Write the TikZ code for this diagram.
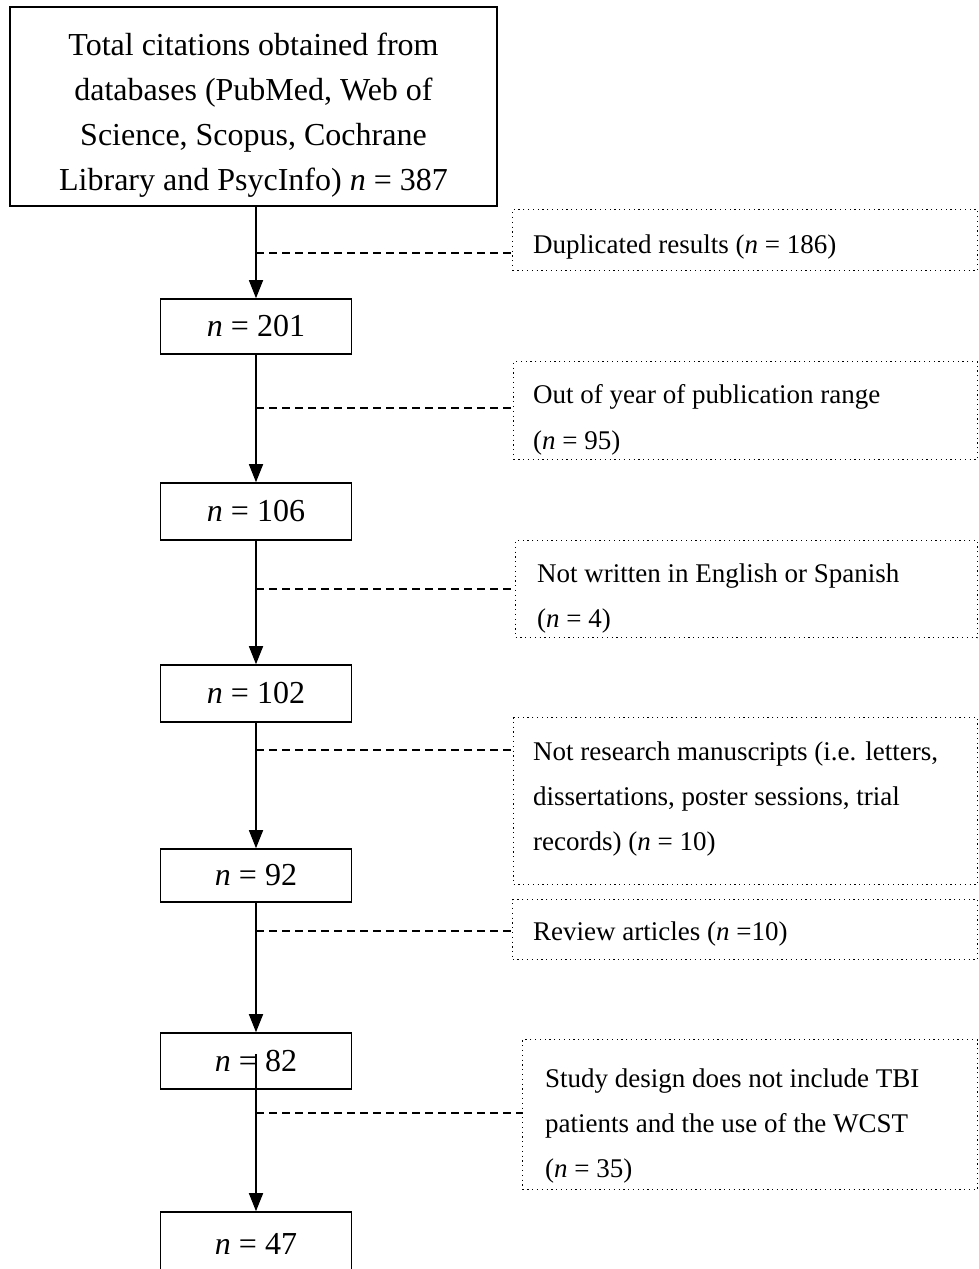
\documentclass[tikz,border=0pt]{standalone}
\usepackage{fontspec}
\setmainfont{Liberation Serif}
\usetikzlibrary{arrows.meta}
\begin{document}
\begin{tikzpicture}[x=1pt,y=-1pt,
 mainbox/.style={draw, line width=1.6pt, minimum width=191pt, minimum height=56pt, inner sep=0pt, font=\fontsize{32}{45}\selectfont},
 sidebox/.style={draw, line width=1.1pt, dash pattern=on 1.2pt off 3.6pt, anchor=north west, inner sep=0pt},
 sidetext/.style={anchor=base west, inner sep=0pt, font=\fontsize{27}{46}\selectfont},
 flow/.style={line width=1.6pt, -{Triangle[length=18pt,width=14pt]}},
 exclude/.style={line width=1.6pt, dash pattern=on 8pt off 5pt}]
\useasboundingbox (0,0) rectangle (979,1269);

% main column
\node[mainbox, minimum width=487pt, minimum height=199pt] (top) at (253.5,106.5) {};
\node[inner sep=0pt, align=center, font=\fontsize{32}{45}\selectfont] (toptext) at (253.5,115)
  {Total citations obtained from\\ databases (PubMed, Web of\\ Science, Scopus, Cochrane\\ Library and PsycInfo) \textit{n} = 387};
\node[mainbox, minimum height=55pt] (b201) at (256,326.5) {\textit{n} = 201};
\node[mainbox, minimum height=57pt] (b106) at (256,511.5) {\textit{n} = 106};
\node[mainbox, minimum height=57pt] (b102) at (256,693.5) {\textit{n} = 102};
\node[mainbox, minimum height=53pt] (b92) at (256,875.5) {\textit{n} = 92};
\node[mainbox, minimum height=56pt] (b82) at (256,1061) {\textit{n} = 82};
\node[mainbox, minimum height=64pt] (b47) at (256,1244) {\textit{n} = 47};

% exclusion boxes
\node[sidebox, minimum width=465pt, minimum height=61pt] (s1) at (512,209) {};
\node[sidebox, minimum width=464pt, minimum height=98pt] (s2) at (513,361) {};
\node[sidebox, minimum width=462pt, minimum height=97pt] (s3) at (515,540) {};
\node[sidebox, minimum width=464pt, minimum height=167pt] (s4) at (513,717) {};
\node[sidebox, minimum width=465pt, minimum height=60pt] (s5) at (512,899) {};
\node[sidebox, minimum width=455pt, minimum height=150pt] (s6) at (522,1039) {};

% exclusion texts
\node[sidetext] (t1) at (533,253) {Duplicated results (\textit{n} = 186)};
\node[sidetext] (t2a) at (533,403) {Out of year of publication range};
\node[sidetext] (t2b) at (533,449) {(\textit{n} = 95)};
\node[sidetext] (t3a) at (537,582) {Not written in English or Spanish};
\node[sidetext] (t3b) at (537,627) {(\textit{n} = 4)};
\node[sidetext] (t4a) at (533,760) {Not research manuscripts (i.e. letters,};
\node[sidetext] (t4b) at (533,805) {dissertations, poster sessions, trial};
\node[sidetext] (t4c) at (533,850) {records) (\textit{n} = 10)};
\node[sidetext] (t5) at (533,940) {Review articles (\textit{n} =10)};
\node[sidetext] (t6a) at (545,1087) {Study design does not include TBI};
\node[sidetext] (t6b) at (545,1132) {patients and the use of the WCST};
\node[sidetext] (t6c) at (545,1177) {(\textit{n} = 35)};

% junctions on the main line
\coordinate (j1) at (256,253);
\coordinate (j2) at (256,408);
\coordinate (j3) at (256,589);
\coordinate (j4) at (256,750);
\coordinate (j5) at (256,931);
\coordinate (j6) at (256,1113);

% flow arrows
\draw[flow] (b201.north |- top.south) -- (b201.north);
\draw[flow] (b201.south) -- (b106.north);
\draw[flow] (b106.south) -- (b102.north);
\draw[flow] (b102.south) -- (b92.north);
\draw[flow] (b92.south) -- (b82.north);
\draw[flow] ([yshift=-22pt]b82.north) -- (b47.north);

% exclusion connectors
\draw[exclude] (j1) -- (s1.west |- j1);
\draw[exclude] (j2) -- (s2.west |- j2);
\draw[exclude] (j3) -- (s3.west |- j3);
\draw[exclude] (j4) -- (s4.west |- j4);
\draw[exclude] (j5) -- (s5.west |- j5);
\draw[exclude] (j6) -- (s6.west |- j6);
\end{tikzpicture}
\end{document}
